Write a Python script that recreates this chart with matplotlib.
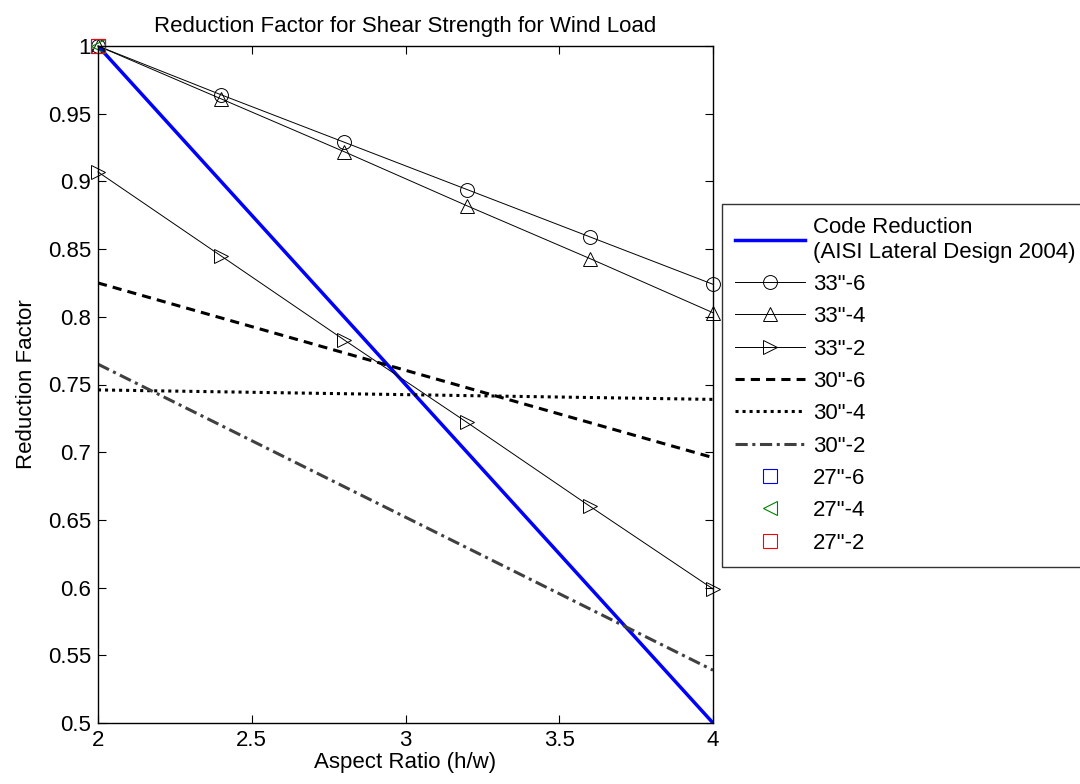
import numpy as np
import matplotlib
matplotlib.use("Agg")
import matplotlib.pyplot as plt

plt.rcParams['font.family'] = ['Liberation Sans', 'DejaVu Sans']

# aspect ratio (h/w)
x = [2.0, 2.4, 2.8, 3.2, 3.6, 4.0]
x_ends = [2.0, 4.0]

code_red = [1.0, 0.5]
s33_6 = [1.0, 0.964, 0.929, 0.894, 0.859, 0.824]
s33_4 = [1.0, 0.961, 0.922, 0.882, 0.843, 0.803]
s33_2 = [0.907, 0.845, 0.783, 0.722, 0.660, 0.599]
s30_6 = [0.825, 0.696]
s30_4 = [0.746, 0.739]
s30_2 = [0.765, 0.539]
s27_x = [2.0]
s27_6 = [1.0]
s27_4 = [1.0]
s27_2 = [1.0]

fs = 16

fig = plt.figure(figsize=(10.8, 7.84), dpi=100)
ax = fig.add_axes([98/1080, 1 - 723/784, 615/1080, 677/784])

ax.plot(x_ends, code_red, color='#0000ff', lw=2.5,
        label='Code Reduction\n(AISI Lateral Design 2004)')
mk = dict(color='k', lw=0.7, ms=10, mfc='none', mew=0.7, clip_on=False)
ax.plot(x, s33_6, marker='o', label='33"-6', **mk)
ax.plot(x, s33_4, marker='^', label='33"-4', **mk)
ax.plot(x, s33_2, marker='>', label='33"-2', **mk)
ax.plot(x_ends, s30_6, color='k', lw=2.2, ls=(0, (3, 2)), label='30"-6')
ax.plot(x_ends, s30_4, color='k', lw=2.2, ls=(0, (1, 1.3)), label='30"-4')
ax.plot(x_ends, s30_2, color='#404040', lw=2.2, ls=(0, (4, 1.5, 1, 1.5)), label='30"-2')
ax.plot(s27_x, s27_6, ls='none', marker='s', ms=10, mfc='none', mec='#0000ff', mew=0.8,
        clip_on=False, label='27"-6')
ax.plot(s27_x, s27_4, ls='none', marker='<', ms=10, mfc='none', mec='#008000', mew=0.8,
        clip_on=False, label='27"-4')
ax.plot(s27_x, s27_2, ls='none', marker='s', ms=10, mfc='none', mec='#ff0000', mew=0.8,
        clip_on=False, label='27"-2')

ax.set_xlim(2, 4)
ax.set_ylim(0.5, 1)
ax.set_xticks([2, 2.5, 3, 3.5, 4])
ax.set_xticklabels(['2', '2.5', '3', '3.5', '4'])
ax.set_yticks(np.arange(0.5, 1.001, 0.05))
ax.set_yticklabels(['0.5', '0.55', '0.6', '0.65', '0.7', '0.75', '0.8', '0.85', '0.9', '0.95', '1'])
ax.tick_params(direction='in', top=True, right=True, labelsize=fs, length=6, pad=5)
for sp in ax.spines.values():
    sp.set_linewidth(1.0)

ax.set_xlabel('Aspect Ratio (h/w)', fontsize=fs, labelpad=1)
ax.set_ylabel('Reduction Factor', fontsize=fs, labelpad=8)
ax.set_title('Reduction Factor for Shear Strength for Wind Load', fontsize=fs, pad=10)

leg = ax.legend(loc='upper left', bbox_to_anchor=(722/1080, 1 - 204/784),
                bbox_transform=fig.transFigure, fontsize=fs, frameon=True,
                fancybox=False, edgecolor='k', handlelength=3.15,
                borderaxespad=0, labelspacing=0.51, handletextpad=0.35,
                borderpad=0.6)
leg.get_frame().set_linewidth(1.0)

fig.savefig('out.png', dpi=100)
